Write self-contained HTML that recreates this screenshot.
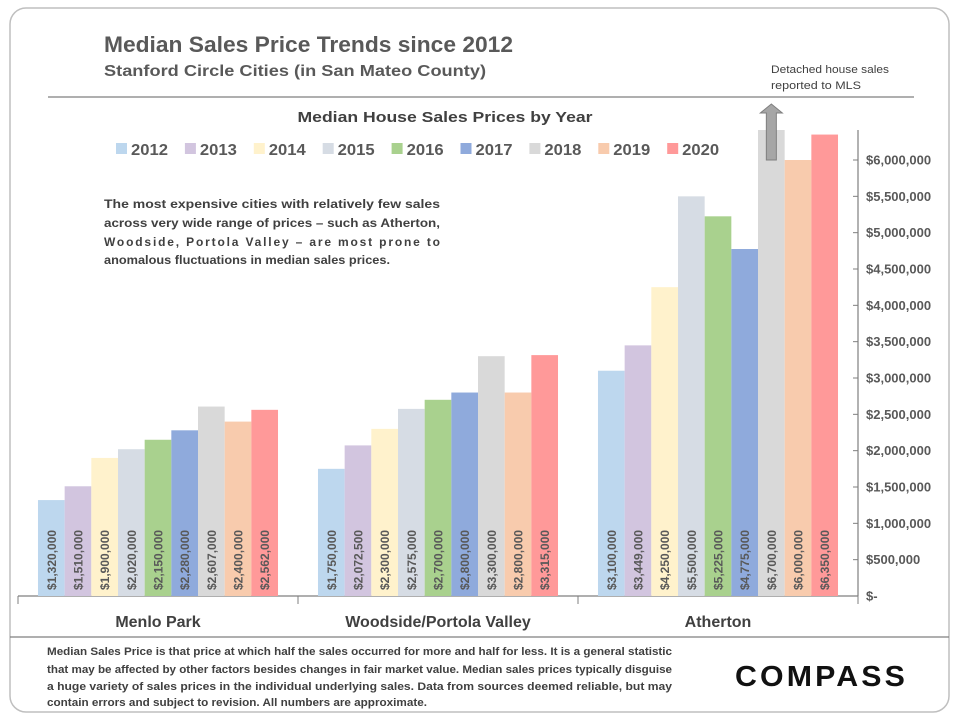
<!DOCTYPE html>
<html><head><meta charset="utf-8"><style>
body{margin:0;background:#fff;}
svg{display:block;font-family:"Liberation Sans",sans-serif;}
</style></head><body>
<svg id="chart" width="960" height="720">
<rect x="10" y="8" width="939" height="704" rx="16" fill="none" stroke="#bfbfbf" stroke-width="1.5"/>
<text x="104" y="52" font-size="22" font-weight="bold" fill="#595959" textLength="409" lengthAdjust="spacingAndGlyphs">Median Sales Price Trends since 2012</text>
<text x="104" y="76" font-size="16" font-weight="bold" fill="#595959" textLength="382" lengthAdjust="spacingAndGlyphs">Stanford Circle Cities (in San Mateo County)</text>
<text x="771" y="73" font-size="11" fill="#404040" textLength="118" lengthAdjust="spacingAndGlyphs">Detached house sales</text>
<text x="771" y="89" font-size="11" fill="#404040" textLength="90" lengthAdjust="spacingAndGlyphs">reported to MLS</text>
<line x1="48" y1="97" x2="914" y2="97" stroke="#7f7f7f" stroke-width="1.3"/>
<text x="445" y="122" font-size="15" font-weight="bold" fill="#404040" text-anchor="middle" textLength="295" lengthAdjust="spacingAndGlyphs">Median House Sales Prices by Year</text>
<g id="legend"></g>
<g font-size="12" font-weight="bold" fill="#404040">
<text x="104" y="208" textLength="336" lengthAdjust="spacingAndGlyphs">The most expensive cities with relatively few sales</text>
<text x="104" y="227" textLength="336" lengthAdjust="spacingAndGlyphs">across very wide range of prices – such as Atherton,</text>
<text x="104" y="246" textLength="336" lengthAdjust="spacing">Woodside, Portola Valley – are most prone to</text>
<text x="104" y="264" textLength="286" lengthAdjust="spacingAndGlyphs">anomalous fluctuations in median sales prices.</text>
</g>
<g id="plot"></g>
<line x1="10" y1="637" x2="949" y2="637" stroke="#7f7f7f" stroke-width="1.2"/>
<g font-size="11" font-weight="bold" fill="#404040">
<text x="47" y="655" textLength="625" lengthAdjust="spacingAndGlyphs">Median Sales Price is that price at which half the sales occurred for more and half for less. It is a general statistic</text>
<text x="47" y="673" textLength="625" lengthAdjust="spacingAndGlyphs">that may be affected by other factors besides changes in fair market value. Median sales prices typically disguise</text>
<text x="47" y="690" textLength="625" lengthAdjust="spacingAndGlyphs">a huge variety of sales prices in the individual underlying sales. Data from sources deemed reliable, but may</text>
<text x="47" y="706" textLength="380" lengthAdjust="spacingAndGlyphs">contain errors and subject to revision.  All numbers are approximate.</text>
</g>
<text x="735" y="686" font-size="29" font-weight="bold" fill="#111" textLength="173" lengthAdjust="spacingAndGlyphs" letter-spacing="3">COMPASS</text>
</svg>
<script>
const categories = ["Menlo Park","Woodside/Portola Valley","Atherton"];
const years = ["2012","2013","2014","2015","2016","2017","2018","2019","2020"];
const colors = ["#bdd7ee","#d2c5df","#fff2cc","#d6dce4","#a9d18e","#8faadc","#d9d9d9","#f8cbad","#ff9999"];
const menlo = [1320000,1510000,1900000,2020000,2150000,2280000,2607000,2400000,2562000];
const woodside = [1750000,2072500,2300000,2575000,2700000,2800000,3300000,2800000,3315000];
const atherton = [3100000,3449000,4250000,5500000,5225000,4775000,6700000,6000000,6350000];
const series = [menlo, woodside, atherton];
const yTicks = [0,500000,1000000,1500000,2000000,2500000,3000000,3500000,4000000,4500000,5000000,5500000,6000000];

const NS="http://www.w3.org/2000/svg";
const plotL=18, plotR=858, y0=596, yTop=130, pxPerM=(596-160)/6;
const y = v => y0 - v/1e6*pxPerM;
const catW=(plotR-plotL)/categories.length;
const barW=26.67;
const x = (c,i) => plotL + c*catW + (catW - barW*years.length)/2 + i*barW;
function mk(tag, attrs, parent){const e=document.createElementNS(NS,tag);for(const k in attrs)e.setAttribute(k,attrs[k]);parent.appendChild(e);return e;}
const plot=document.getElementById('plot');
const fmt=v=>'$'+v.toLocaleString('en-US');

const lg=document.getElementById('legend');
years.forEach((yr,i)=>{
  const lx=116+i*68.9;
  const r=mk('rect',{x:lx,y:143,width:11,height:11,fill:colors[i]},lg);
  
  
  const t=mk('text',{x:lx+15,y:155,'font-size':16,'font-weight':'bold',fill:'#595959',textLength:37,lengthAdjust:'spacingAndGlyphs'},lg);
  t.textContent=yr;
  
  
});

const ax=mk('line',{x1:plotR,y1:yTop,x2:plotR,y2:y0,stroke:'#7f7f7f','stroke-width':1.2},plot);


yTicks.forEach(v=>{
  const ty=y(v);
  mk('line',{x1:plotR-5,y1:ty,x2:plotR,y2:ty,stroke:'#7f7f7f'},plot);
  const t=mk('text',{x:866,y:ty+4.5,'font-size':13,'font-weight':'bold',fill:'#595959'},plot);
  t.textContent = v===0 ? '$-' : fmt(v);
  
  
});
const xa=mk('line',{x1:plotL,y1:y0,x2:plotR,y2:y0,stroke:'#7f7f7f','stroke-width':1.2},plot);


for(let c=0;c<=categories.length;c++){
  mk('line',{x1:plotL+c*catW,y1:y0,x2:plotL+c*catW,y2:y0+8,stroke:'#7f7f7f'},plot);
}
categories.forEach((cat,c)=>{
  const t=mk('text',{x:plotL+c*catW+catW/2,y:627,'font-size':16,'font-weight':'bold',fill:'#404040','text-anchor':'middle'},plot);
  t.textContent=cat;
  
  
});
series.forEach((vals,c)=>{
  vals.forEach((v,i)=>{
    const top=Math.max(y(v),yTop);
    const bx=x(c,i);
    const r=mk('rect',{x:bx,y:top,width:barW,height:y0-top,fill:colors[i]},plot);
    
    
    const cx=bx+barW/2+4.5, cy=590;
    const t=mk('text',{x:cx,y:cy,'font-size':12,'font-weight':'bold',fill:'#595959',transform:`rotate(-90 ${cx} ${cy})`},plot);
    t.textContent=fmt(v);
    
    
  });
});
const ab=x(2,6)+barW/2;
const ar=mk('path',{d:`M${ab-5},160 L${ab-5},113 L${ab-11},113 L${ab},104 L${ab+11},113 L${ab+5},113 L${ab+5},160 Z`,fill:'#a6a6a6',stroke:'#7f7f7f','stroke-width':1},plot);


</script>
</body></html>
